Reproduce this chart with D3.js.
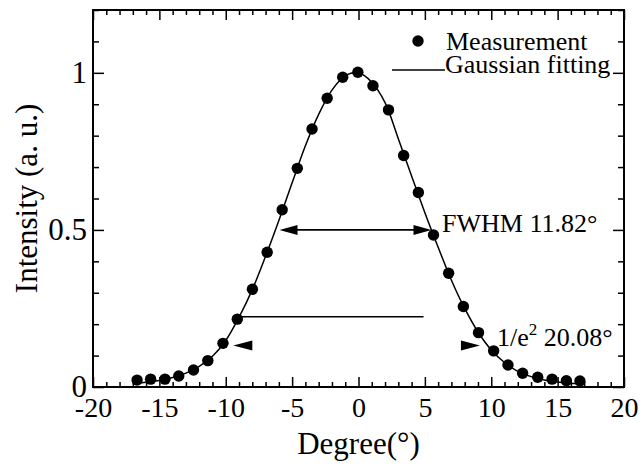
<!DOCTYPE html>
<html>
<head>
<meta charset="utf-8">
<script src="https://cdn.jsdelivr.net/npm/d3@7"></script>
<style>
  body { margin: 0; background: #fff; }
  svg text { font-family: "Liberation Serif", "Times New Roman", serif; fill: #000; }
  .axis path { display: none; }
  .axis line { stroke: #000; stroke-width: 1.5; }
</style>
</head>
<body>
<svg id="chart" width="640" height="466"></svg>
<script>
// measured points (degree, normalised intensity)
var measDeg = [-16.68, -15.66, -14.58, -13.54, -12.43, -11.35, -10.21, -9.13, -7.99, -6.88, -5.75,
               -4.61, -3.50, -2.36, -1.19, -0.05, 1.09, 2.26, 3.40, 4.51, 5.65, 6.79, 7.90, 9.04,
               10.18, 11.26, 12.36, 13.50, 14.58, 15.66, 16.68];
var measVal = [0.022, 0.025, 0.025, 0.035, 0.054, 0.084, 0.139, 0.216, 0.311, 0.429, 0.564,
               0.696, 0.821, 0.919, 0.986, 1.002, 0.959, 0.882, 0.737, 0.619, 0.484, 0.362, 0.256, 0.173,
               0.115, 0.070, 0.044, 0.031, 0.025, 0.020, 0.019];

// gaussian fit curve
var fitDeg = [-17, -16, -15, -14, -13, -12, -11, -10, -9, -8, -7, -6, -5, -4, -3, -2, -1, 0,
              1, 2, 3, 4, 5, 6, 7, 8, 9, 10, 11, 12, 13, 14, 15, 16, 17];
var fitVal = [0.010, 0.015, 0.021, 0.030, 0.044, 0.066, 0.098, 0.148, 0.222, 0.310, 0.416, 0.530,
              0.650, 0.768, 0.868, 0.945, 0.990, 1.000, 0.970, 0.905, 0.790, 0.672, 0.555, 0.445,
              0.340, 0.250, 0.175, 0.118, 0.078, 0.050, 0.033, 0.022, 0.016, 0.012, 0.010];

// annotations (degree from, degree to, intensity)
var fwhmArrow = [-5.95, 5.5, 0.5];
var e2Line = [-8.8, 4.9, 0.224];
var e2Heads = [-9.43, 9.15, 0.132];

var xTicksMajor = [-20, -15, -10, -5, 0, 5, 10, 15, 20];
var yTicksMajor = [0, 0.5, 1];
var yTickLabels = ["0", "0.5", "1"];

var svg = d3.select("svg#chart"),
    margin = {top: 10, right: 16, bottom: 79, left: 93},
    width = +svg.attr("width") - margin.left - margin.right,
    height = +svg.attr("height") - margin.top - margin.bottom;

var x = d3.scaleLinear().domain([-20, 20]).range([0, width]);
var y = d3.scaleLinear().domain([0, 1.2]).range([height, 0]);

var g = svg.append("g")
    .attr("transform", "translate(" + margin.left + "," + margin.top + ")");

var xMinor = d3.range(-20, 21, 1).filter(function(d) { return d % 5 !== 0; });
var yMinor = d3.range(0, 13, 1).map(function(d) { return d / 10; })
    .filter(function(d) { return d !== 0 && d !== 0.5 && d !== 1; });

// bottom axis
g.append("g").attr("class", "axis")
    .attr("transform", "translate(0," + height + ")")
    .call(d3.axisBottom(x).tickValues(xMinor).tickSize(-5).tickFormat(""));
g.append("g").attr("class", "axis axis--x")
    .attr("transform", "translate(0," + height + ")")
    .call(d3.axisBottom(x).tickValues(xTicksMajor).tickSize(-10).tickPadding(10)
      .tickFormat(function(d) { return String(d); }))
    .selectAll("text").style("font-size", "28px");

// top axis
g.append("g").attr("class", "axis")
    .call(d3.axisTop(x).tickValues(xMinor).tickSize(-5).tickFormat(""));
g.append("g").attr("class", "axis")
    .call(d3.axisTop(x).tickValues(xTicksMajor).tickSize(-10).tickFormat(""));

// left axis
g.append("g").attr("class", "axis")
    .call(d3.axisLeft(y).tickValues(yMinor).tickSize(-6).tickFormat(""));
g.append("g").attr("class", "axis axis--y")
    .call(d3.axisLeft(y).tickValues(yTicksMajor).tickSize(-11).tickPadding(6)
      .tickFormat(function(d, i) { return yTickLabels[i]; }))
    .selectAll("text").style("font-size", "31px");

// right axis
g.append("g").attr("class", "axis")
    .attr("transform", "translate(" + width + ",0)")
    .call(d3.axisRight(y).tickValues(yMinor).tickSize(-6).tickFormat(""));
g.append("g").attr("class", "axis")
    .attr("transform", "translate(" + width + ",0)")
    .call(d3.axisRight(y).tickValues(yTicksMajor).tickSize(-11).tickFormat(""));

// frame
g.append("rect")
    .attr("width", width)
    .attr("height", height)
    .attr("fill", "none")
    .attr("stroke", "#000")
    .attr("stroke-width", 2);

// axis titles
svg.append("text")
    .attr("x", margin.left + width / 2)
    .attr("y", 454)
    .attr("text-anchor", "middle")
    .style("font-size", "31px")
    .text("Degree(°)");

svg.append("text")
    .attr("transform", "translate(37," + (margin.top + y(0.6)) + ") rotate(-90)")
    .attr("text-anchor", "middle")
    .style("font-size", "31px")
    .text("Intensity (a. u.)");

// fit line
var fitData = fitDeg.map(function(d, i) { return {x: d, y: fitVal[i]}; });
var line = d3.line()
    .x(function(d) { return x(d.x); })
    .y(function(d) { return y(d.y); })
    .curve(d3.curveCatmullRom);

g.append("path")
    .datum(fitData)
    .attr("fill", "none")
    .attr("stroke", "#000")
    .attr("stroke-width", 1.5)
    .attr("d", line);

// measured dots
g.selectAll(".dot")
    .data(measDeg.map(function(d, i) { return {x: d, y: measVal[i]}; }))
  .enter().append("circle")
    .attr("class", "dot")
    .attr("cx", function(d) { return x(d.x); })
    .attr("cy", function(d) { return y(d.y); })
    .attr("r", 5.7)
    .attr("fill", "#000");

// arrow head helper: tip at (tx, ty), dir -1 points left, +1 points right
function head(tx, ty, dir, len, half) {
  return "M" + tx + "," + ty + "L" + (tx - dir * len) + "," + (ty - half) +
         "L" + (tx - dir * len) + "," + (ty + half) + "Z";
}

// FWHM arrow
var fy = y(fwhmArrow[2]);
g.append("line")
    .attr("x1", x(fwhmArrow[0]) + 8).attr("x2", x(fwhmArrow[1]) - 8)
    .attr("y1", fy).attr("y2", fy)
    .attr("stroke", "#000").attr("stroke-width", 1.7);
g.append("path").attr("d", head(x(fwhmArrow[0]), fy, -1, 18, 5)).attr("fill", "#000");
g.append("path").attr("d", head(x(fwhmArrow[1]), fy, 1, 18, 5)).attr("fill", "#000");

// 1/e^2 marks
g.append("line")
    .attr("x1", x(e2Line[0])).attr("x2", x(e2Line[1]))
    .attr("y1", y(e2Line[2])).attr("y2", y(e2Line[2]))
    .attr("stroke", "#000").attr("stroke-width", 1.5);
g.append("path").attr("d", head(x(e2Heads[0]), y(e2Heads[2]), -1, 19, 5)).attr("fill", "#000");
g.append("path").attr("d", head(x(e2Heads[1]), y(e2Heads[2]), 1, 19, 5)).attr("fill", "#000");

// annotation texts
svg.append("text")
    .attr("x", 442).attr("y", 232)
    .style("font-size", "26px")
    .text("FWHM 11.82°");

var e2 = svg.append("text")
    .attr("x", 497).attr("y", 346)
    .style("font-size", "26px");
e2.append("tspan").text("1/e");
e2.append("tspan").attr("dy", -11).style("font-size", "17px").text("2");
e2.append("tspan").attr("dy", 11).text(" 20.08°");

// legend
svg.append("circle")
    .attr("cx", 418).attr("cy", 41).attr("r", 5.7).attr("fill", "#000");
svg.append("text")
    .attr("x", 446).attr("y", 50)
    .style("font-size", "26px")
    .text("Measurement");
svg.append("line")
    .attr("x1", 392).attr("x2", 445).attr("y1", 70).attr("y2", 70)
    .attr("stroke", "#000").attr("stroke-width", 1.5);
svg.append("text")
    .attr("x", 445).attr("y", 73)
    .style("font-size", "26px")
    .text("Gaussian fitting");
</script>
</body>
</html>
